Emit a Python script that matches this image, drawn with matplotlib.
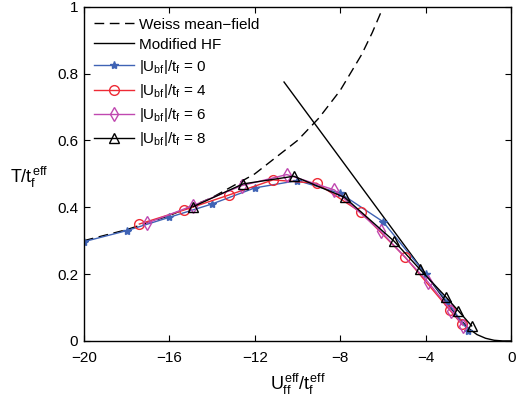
import matplotlib
matplotlib.use('Agg')
import matplotlib.pyplot as plt
import numpy as np

plt.rcParams['font.family'] = ['Liberation Sans', 'DejaVu Sans']
plt.rcParams['mathtext.fontset'] = 'custom'
plt.rcParams['mathtext.rm'] = 'Liberation Sans'
plt.rcParams['mathtext.it'] = 'Liberation Sans'
plt.rcParams['mathtext.bf'] = 'Liberation Sans:bold'

# Weiss mean-field (dashed)
weiss_U = [-20, -18, -16, -14, -12, -10, -9, -8, -7, -6.5, -6.1]
weiss_T = [0.30, 0.333, 0.375, 0.429, 0.50, 0.60, 0.667, 0.75, 0.857, 0.923, 0.983]

# Modified HF (solid)
hf_U = [-10.63, -3.0, -2.5, -2.0, -1.6, -1.2, -0.8, -0.4, 0.0]
hf_T = [0.775, 0.113, 0.072, 0.038, 0.019, 0.008, 0.002, 0.0, 0.0]

# |U_bf|/t_f = 0
u0_U = [-20, -18, -16, -14, -12, -10, -8, -6, -4, -3, -2]
u0_T = [0.297, 0.33, 0.37, 0.41, 0.458, 0.48, 0.442, 0.357, 0.2, 0.118, 0.03]

# |U_bf|/t_f = 4
u4_U = [-17.4, -15.3, -13.2, -11.15, -9.1, -7.03, -4.95, -2.87, -2.31]
u4_T = [0.35, 0.392, 0.437, 0.482, 0.472, 0.385, 0.25, 0.092, 0.05]

# |U_bf|/t_f = 6
u6_U = [-17.06, -14.9, -12.6, -10.5, -8.27, -6.1, -3.9, -2.8, -2.25]
u6_T = [0.352, 0.405, 0.465, 0.498, 0.452, 0.328, 0.177, 0.09, 0.046]

# |U_bf|/t_f = 8
u8_U = [-14.88, -12.55, -10.17, -7.8, -5.47, -4.28, -3.06, -2.47, -1.85]
u8_T = [0.402, 0.47, 0.493, 0.43, 0.298, 0.215, 0.132, 0.09, 0.045]

fig = plt.figure(figsize=(5.27, 4.03), dpi=100)
ax = fig.add_axes([0.159, 0.154, 0.811, 0.829])

ax.plot(weiss_U, weiss_T, color='black', linestyle=(0, (7, 4)), linewidth=1.0,
        label='Weiss mean\u2212field')
ax.plot(hf_U, hf_T, color='black', linewidth=1.0, label='Modified HF')
ax.plot(u0_U, u0_T, color='#3f63b5', linewidth=1.0, marker='*', markersize=6,
        label=r'$|U_{\rm bf}|/t_{\rm f}$ = 0')
ax.plot(u4_U, u4_T, color='#ee2a35', linewidth=1.0, marker='o', markersize=7,
        markerfacecolor='none', label=r'$|U_{\rm bf}|/t_{\rm f}$ = 4')
ax.plot(u6_U, u6_T, color='#c048b0', linewidth=1.0, marker='d', markersize=7,
        markerfacecolor='none', label=r'$|U_{\rm bf}|/t_{\rm f}$ = 6')
ax.plot(u8_U, u8_T, color='black', linewidth=1.0, marker='^', markersize=7,
        markerfacecolor='none', label=r'$|U_{\rm bf}|/t_{\rm f}$ = 8')

ax.set_xlim(-20, 0)
ax.set_ylim(0, 1)
ax.set_xticks([-20, -16, -12, -8, -4, 0])
ax.set_xticklabels(['\u221220', '\u221216', '\u221212', '\u22128', '\u22124', '0'])
ax.set_yticks([0, 0.2, 0.4, 0.6, 0.8, 1])
ax.set_yticklabels(['0', '0.2', '0.4', '0.6', '0.8', '1'])
ax.tick_params(direction='in', top=True, right=True, labelsize=11, length=4,
               width=0.8)
ax.tick_params(axis='x', pad=7)
ax.tick_params(axis='y', pad=4)
for s in ax.spines.values():
    s.set_linewidth(1.0)

ax.set_xlabel(r'$U_{\rm ff}^{\rm eff}/t_{\rm f}^{\rm eff}$', fontsize=13, labelpad=5)
ax.set_ylabel(r'$T/t_{\rm f}^{\rm eff}$', fontsize=13, rotation=0, va='center')
ax.yaxis.set_label_coords(-0.127, 0.49)

ax.legend(loc='upper left', frameon=False, fontsize=11, handlelength=2.6,
          borderaxespad=0.3, labelspacing=0.4, handletextpad=0.3)

fig.savefig('out.png', dpi=100)
